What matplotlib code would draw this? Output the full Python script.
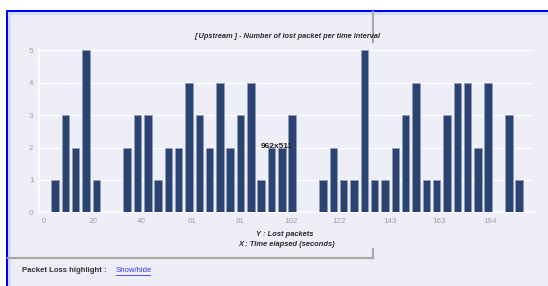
import matplotlib.pyplot as plt
from matplotlib.patches import Rectangle
from matplotlib.lines import Line2D

# lost packets per time interval (upstream)
times = [4.4, 8.7, 12.9, 17.2, 21.5, 25.7, 30.0, 34.2, 38.5, 42.8,
         47.0, 51.3, 55.5, 59.8, 64.1, 68.3, 72.6, 76.8, 81.1, 85.4,
         89.6, 93.9, 98.1, 102.4, 106.7, 110.9, 115.2, 119.4, 123.7, 128.0,
         132.2, 136.5, 140.7, 145.0, 149.3, 153.5, 157.8, 162.0, 166.3, 170.6,
         174.8, 179.1, 183.3, 187.6, 191.9, 196.1]
lost = [1, 3, 2, 5, 1, 0, 0, 2, 3, 3,
        1, 2, 2, 4, 3, 2, 4, 2, 3, 4,
        1, 2, 2, 3, 0, 0, 1, 2, 1, 1,
        5, 1, 1, 2, 3, 4, 1, 1, 3, 4,
        4, 2, 4, 0, 3, 1]
x_ticks = [0, 20, 40, 61, 81, 102, 122, 143, 163, 184]
y_ticks = [0, 1, 2, 3, 4, 5]

plt.rcParams['font.family'] = ['Liberation Sans', 'DejaVu Sans']

W, H = 548, 286
bg = '#eeeef8'
fig = plt.figure(figsize=(W / 100, H / 100), dpi=100)
fig.patch.set_facecolor('white')


def px(x, y):
    return x / W, 1 - y / H


# page frame: blue border, light band, lavender panel
fig.patches.append(Rectangle((6 / W, 0), 1, 1 - 10 / H, transform=fig.transFigure,
                             facecolor='#0000ff', edgecolor='none', zorder=0))
fig.patches.append(Rectangle((8 / W, 0), 1, 1 - 12 / H, transform=fig.transFigure,
                             facecolor='#d2ddf8', edgecolor='none', zorder=0))
fig.patches.append(Rectangle((11 / W, 0), 1, 1 - 15 / H, transform=fig.transFigure,
                             facecolor=bg, edgecolor='none', zorder=0))

# gray bracket lines of the panel
for (x0, y0), (x1, y1) in [((373, 12), (373, 42)), ((8, 257.5), (373, 257.5)),
                           ((373, 249), (373, 257.5))]:
    a, b = px(x0, y0)
    c, d = px(x1, y1)
    fig.lines.append(Line2D([a, c], [b, d], transform=fig.transFigure,
                            color='#a8a8a8', linewidth=1.6, zorder=1))

ax = fig.add_axes([39 / W, 1 - 212.3 / H, (534 - 39) / W, (212.3 - 48.7) / H])
ax.set_zorder(2)
ax.set_facecolor(bg)
ax.bar(times, lost, width=3.1, color='#2b4370', edgecolor='#8f9cbc',
       linewidth=0.6, zorder=3)
ax.set_xlim(-2.2, 202.3)
ax.set_ylim(0, 5.05)
ax.set_xticks(x_ticks)
ax.set_yticks(y_ticks)
ax.tick_params(length=0, labelsize=5.8, colors='#a0a0a0', pad=4)
ax.grid(axis='y', color='white', linewidth=1.0, zorder=1)
for side in ['top', 'right']:
    ax.spines[side].set_visible(False)
for side in ['left', 'bottom']:
    ax.spines[side].set_color('white')
    ax.spines[side].set_linewidth(1.2)

fig.text(*px(287, 37), '[ Upstream ] - Number of lost packet per time interval',
         ha='center', va='center', fontsize=5.35, fontstyle='italic',
         fontweight='bold', color='#2a2a2a', zorder=5)
fig.text(*px(285, 235), 'Y : Lost packets', ha='center', va='center',
         fontsize=5.4, fontstyle='italic', fontweight='bold', color='#2a2a2a', zorder=5)
fig.text(*px(287, 245), 'X : Time elapsed (seconds)', ha='center', va='center',
         fontsize=5.4, fontstyle='italic', fontweight='bold', color='#2a2a2a', zorder=5)
fig.text(*px(261, 147), '962x511', ha='left', va='center', fontsize=6.0,
         fontweight='bold', color='#222222', zorder=5)
fig.text(*px(22, 271), 'Packet Loss highlight :', ha='left', va='center',
         fontsize=5.6, fontweight='bold', color='#333333', zorder=5)
fig.text(*px(116, 271), 'Show/hide', ha='left', va='center',
         fontsize=5.6, color='#3333ff', zorder=5)
a, b = px(116, 275)
c, d = px(150, 275)
fig.lines.append(Line2D([a, c], [b, d], transform=fig.transFigure,
                        color='#3333ff', linewidth=0.6, zorder=5))

fig.savefig('out.png', dpi=100)
